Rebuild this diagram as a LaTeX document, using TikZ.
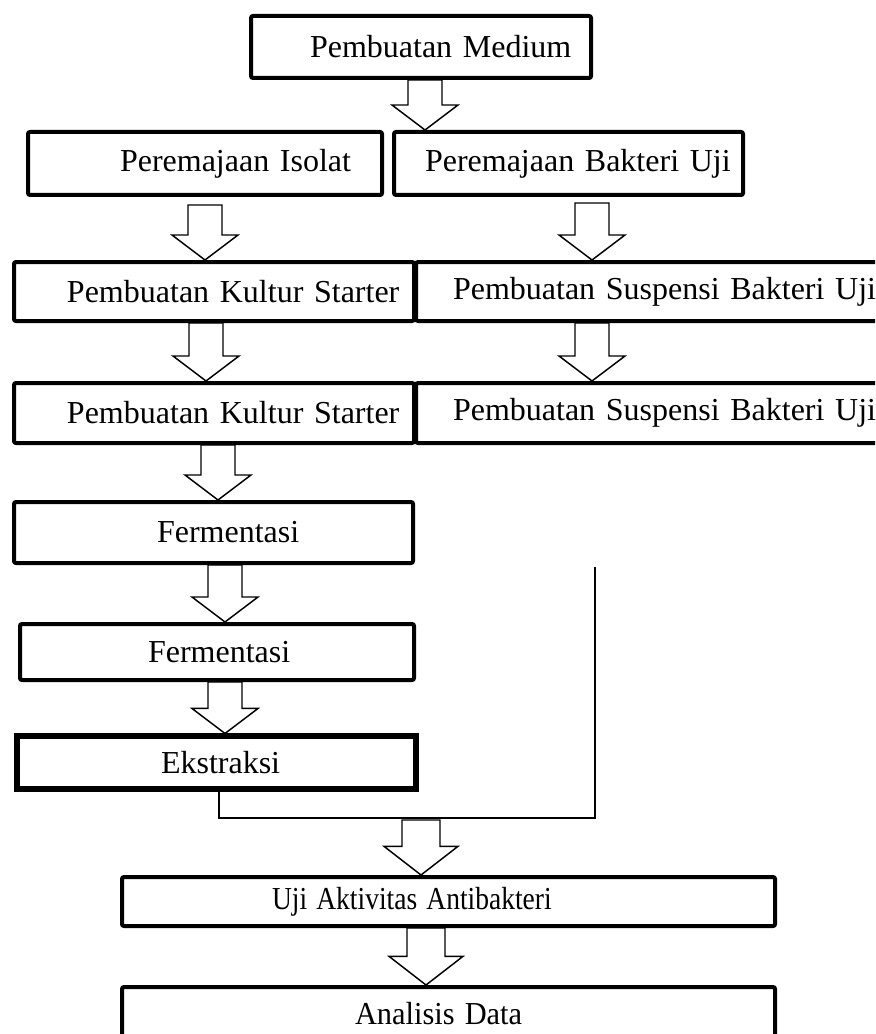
\documentclass[tikz,border=0pt]{standalone}
\usepackage{fontspec}
\setmainfont{Liberation Serif}
\usepackage{graphicx}
\usepackage{tikz}
\usetikzlibrary{calc}
\newcommand{\shw}{12.75pt}
\newcommand{\hdw}{24.75pt}
\newcommand{\hdl}{18.75pt}
\newcommand{\narrow}[2]{\scalebox{#1}[1]{#2}}

\begin{document}
\begin{tikzpicture}[x=0.75pt,y=-0.75pt,
  box/.style n args={3}{draw,line width=3pt,rounded corners=1.5pt,fill=white,
    text width=#1,minimum height=#2,inner xsep=0pt,inner ysep=0pt,align=left,
    font=\fontsize{24}{28}\selectfont,execute at begin node={\hspace*{#3}}},
  blk/.style={draw,line width=1.1pt,line join=miter,
    to path={([xshift=-\shw]\tikztostart) -- ([xshift=-\shw,yshift=\hdl]\tikztotarget)
      -- ([xshift=-\hdw,yshift=\hdl]\tikztotarget) -- (\tikztotarget)
      -- ([xshift=\hdw,yshift=\hdl]\tikztotarget) -- ([xshift=\shw,yshift=\hdl]\tikztotarget)
      -- ([xshift=\shw]\tikztostart) -- cycle}},
  blkbig/.style={blk,/utils/exec={\def\shw{14.25pt}\def\hdw{27.75pt}\def\hdl{21.5pt}}},
  link/.style={line width=1.5pt}]

  \useasboundingbox (0,0) rectangle (875,1034);
  \clip (0,0) rectangle (875,1034);

  \node[box={255pt}{46.5pt}{44.25pt}] (medium) at (421,47) {Pembuatan Medium};

  \node[box={265.5pt}{47.25pt}{69pt}] (isolat) at (205,163.5) {Peremajaan Isolat};
  \node[box={261.75pt}{47.25pt}{23.25pt}] (bakteri) at (568.5,163.5) {Peremajaan Bakteri Uji};

  \node[box={300pt}{44.25pt}{39.75pt}] (kultur1) at (214,291.5) {Pembuatan Kultur Starter};
  \node[box={349.5pt}{44.25pt}{27.75pt}] (susp1) at (649,291.5) {Pembuatan Suspensi Bakteri Uji};
  \node[box={300pt}{45pt}{39.75pt}] (kultur2) at (214,413) {Pembuatan Kultur Starter};
  \node[box={349.5pt}{45pt}{27.75pt}] (susp2) at (649,413) {Pembuatan Suspensi Bakteri Uji};

  \node[box={299.25pt}{45.75pt}{107.25pt}] (ferm1) at (213.5,532.5) {Fermentasi};
  \node[box={295.5pt}{42pt}{96pt}] (ferm2) at (217,652) {Fermentasi};
  \node[box={299.25pt}{39.75pt}{108pt},line width=3.8pt,sharp corners] (ekstraksi)
    at (216.5,762.5) {Ekstraksi};

  \node[box={489.75pt}{36.75pt}{112.5pt}] (uji) at (448.5,901.5)
    {\narrow{0.86}{Uji Aktivitas Antibakteri}};
  \node[box={489.75pt}{39.75pt}{174.75pt}] (analisis) at (448.5,1013.5)
    {\narrow{0.95}{Analisis Data}};

  % block arrows
  \draw[blk] (medium.south -| 425,0) to (bakteri.north -| 425,0);
  \draw[blk] ([yshift=-6pt]isolat.south) to (isolat.south |- kultur1.north);
  \draw[blk] ([yshift=-4.5pt]bakteri.south -| 592,0) to (susp1.north -| 592,0);
  \draw[blk] (kultur1.south -| 206,0) to (kultur2.north -| 206,0);
  \draw[blk] (susp1.south -| 592,0) to (susp2.north -| 592,0);
  \draw[blk] (kultur2.south -| 218,0) to (ferm1.north -| 218,0);
  \draw[blk] (ferm1.south -| 225,0) to (ferm2.north -| 225,0);
  \draw[blk] (ferm2.south -| 225,0) to (ekstraksi.north -| 225,0);

  \coordinate (jn) at (595,818);
  \coordinate (jtop) at (595,567);
  \draw[link] ([xshift=1.9pt]ekstraksi.south) |- (jn) -- (jtop);

  \draw[blkbig] ([yshift=-1.5pt]jn -| 421,0) to (uji.north -| 421,0);
  \draw[blkbig] (uji.south -| 426,0) to (analisis.north -| 426,0);
\end{tikzpicture}
\end{document}
